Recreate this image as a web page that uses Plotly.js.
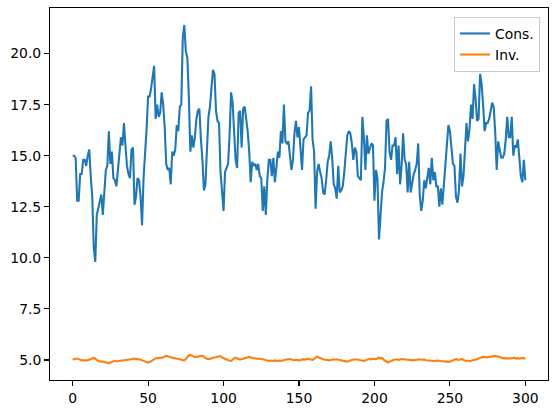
<!DOCTYPE html>
<html>
<head>
<meta charset="utf-8">
<script src="https://cdn.plot.ly/plotly-3.0.1.min.js"></script>
<style>html,body{margin:0;padding:0;background:#fff;}#chart{width:556px;height:413px;}</style>
</head>
<body>
<div id="chart"></div>
<script>
const seriesNames = ["Cons.", "Inv."];
const xTickVals = [0, 50, 100, 150, 200, 250, 300];
const yTickVals = [5.0, 7.5, 10.0, 12.5, 15.0, 17.5, 20.0];

const consValues = [
15.0,15.0,14.9,12.8,12.8,14.1,14.1,14.8,14.8,14.5,
15.0,15.3,14.0,13.0,10.5,9.8,12.1,12.4,12.7,13.1,
12.1,13.0,14.3,14.5,16.2,14.6,15.2,13.9,13.8,13.5,
14.2,15.0,15.9,15.5,16.6,15.5,14.5,14.1,13.9,15.3,
15.4,12.6,13.0,13.9,13.8,13.0,11.6,13.9,15.0,16.3,
17.9,17.9,18.3,18.9,19.4,16.8,17.5,16.9,17.1,18.1,
17.5,16.4,14.6,14.3,14.4,13.6,15.2,15.0,15.3,16.5,
16.2,17.4,17.5,20.8,21.4,20.1,19.8,17.9,15.2,16.0,
15.4,15.9,16.8,17.2,17.3,15.8,14.8,13.3,13.6,15.3,
16.9,17.4,18.2,19.2,19.0,17.2,16.7,16.6,14.2,13.2,
12.3,14.2,14.4,14.6,16.0,18.1,17.6,16.3,14.8,14.4,
17.1,17.2,15.4,17.3,17.4,16.8,16.2,15.2,13.7,14.7,
14.5,14.6,14.3,14.6,14.0,13.9,12.3,13.5,12.1,13.8,
14.8,14.8,14.0,14.9,13.7,14.4,15.2,14.9,16.2,15.6,
17.5,15.7,15.6,15.7,15.0,14.3,14.8,16.1,16.7,15.9,
16.4,15.3,14.3,15.8,15.9,16.0,17.1,17.2,18.4,15.8,
15.2,12.4,14.2,14.6,14.2,13.9,13.2,13.1,13.8,14.7,
15.0,15.7,14.9,13.6,13.4,12.9,14.5,13.2,13.3,13.5,
14.2,15.2,16.0,16.2,16.1,15.6,14.8,15.4,15.2,14.0,
13.9,13.8,16.9,15.9,14.3,16.0,15.1,15.4,15.6,15.5,
12.8,14.3,13.9,10.9,12.0,13.2,13.7,14.4,16.7,16.8,
15.2,14.8,15.5,15.5,15.9,14.1,15.5,13.6,14.5,16.1,
14.8,14.6,13.2,14.7,13.2,13.7,14.1,14.3,14.6,15.6,
13.1,12.3,12.8,13.8,13.4,13.9,14.4,13.6,14.9,13.8,
14.2,13.5,13.5,12.5,13.4,12.6,13.5,14.8,15.6,16.5,
16.2,15.5,14.6,14.5,13.0,12.7,13.3,15.1,13.5,14.0,
15.4,16.6,15.7,16.3,17.5,16.8,18.5,17.8,16.7,16.8,
19.0,18.5,17.5,16.2,16.6,16.6,16.8,17.2,17.6,17.4,
16.2,14.3,15.7,15.3,14.9,14.9,15.1,15.8,16.9,15.9,
15.9,16.9,15.0,15.5,15.4,15.8,14.7,14.0,13.7,14.8,
13.8
];

const invValues = [
5.02,5.03,5.05,5.07,5.04,5.01,4.98,4.99,4.97,4.98,
4.99,5.02,5.05,5.08,5.10,5.06,5.00,4.95,4.93,4.94,
4.92,4.90,4.89,4.86,4.85,4.88,4.92,4.95,4.96,4.94,
4.95,4.96,4.95,4.97,4.99,5.00,5.01,5.02,5.00,5.04,
5.06,5.07,5.03,5.05,5.02,5.02,4.98,4.95,4.92,4.89,
4.87,4.90,4.95,4.98,5.04,5.08,5.10,5.09,5.12,5.10,
5.14,5.17,5.20,5.18,5.15,5.12,5.10,5.09,5.08,5.06,
5.05,5.03,5.01,4.99,4.98,5.05,5.15,5.22,5.25,5.20,
5.16,5.14,5.17,5.15,5.18,5.20,5.21,5.15,5.08,5.05,
5.06,5.04,5.08,5.10,5.12,5.14,5.18,5.20,5.19,5.12,
5.08,5.04,5.00,4.97,4.96,4.95,5.02,5.08,5.10,5.06,
5.04,5.02,5.06,5.05,5.09,5.11,5.13,5.15,5.12,5.10,
5.09,5.08,5.06,5.07,5.07,5.05,5.03,5.01,4.98,4.96,
4.95,4.97,4.96,4.95,4.98,4.96,4.95,4.97,4.95,4.96,
5.00,5.02,5.04,5.05,5.05,5.02,5.00,4.99,5.01,4.99,
4.98,5.00,5.03,5.04,5.02,5.04,5.06,5.04,5.01,5.00,
5.05,5.12,5.17,5.12,5.08,5.06,5.04,5.02,5.00,4.99,
4.98,5.00,5.02,5.03,5.01,5.03,5.01,4.99,4.97,4.95,
4.94,4.93,4.92,4.95,4.98,5.00,5.02,5.02,5.03,5.02,
5.00,4.98,4.97,4.95,4.98,5.02,5.04,5.05,5.03,5.06,
5.05,5.04,5.08,5.12,5.08,5.10,5.02,4.96,4.92,4.88,
4.92,4.96,4.99,5.01,5.02,5.03,5.00,5.03,5.05,5.04,
5.03,5.05,5.03,5.02,5.00,4.99,4.98,5.00,5.02,5.04,
5.03,5.01,5.03,5.02,4.99,4.98,4.97,4.98,4.96,4.95,
4.95,4.97,4.98,4.96,4.95,4.94,4.93,4.92,4.90,4.91,
4.93,4.96,5.00,5.03,5.04,5.02,5.00,5.03,5.05,5.00,
4.96,4.95,4.97,4.94,4.96,4.98,4.98,5.00,5.04,5.08,
5.11,5.13,5.15,5.14,5.12,5.14,5.16,5.18,5.17,5.19,
5.20,5.19,5.16,5.14,5.12,5.08,5.10,5.07,5.09,5.06,
5.08,5.10,5.09,5.11,5.07,5.09,5.06,5.08,5.10,5.07,
5.08
];

const xIndex = consValues.map((_, i) => i);

const traces = [
  {x: xIndex, y: consValues, name: seriesNames[0], type: "scatter", mode: "lines",
   line: {color: "#1f77b4", width: 2.08}},
  {x: xIndex, y: invValues, name: seriesNames[1], type: "scatter", mode: "lines",
   line: {color: "#ff7f0e", width: 2.08}}
];

const axisCommon = {
  showgrid: false, zeroline: false, showline: true, mirror: true,
  linecolor: "#000", linewidth: 1.1, ticks: "outside", ticklen: 4.9,
  tickwidth: 1.1, tickcolor: "#000",
  tickfont: {family: "DejaVu Sans", size: 13.9, color: "#000"}
};

const layout = {
  width: 556, height: 413,
  margin: {l: 50, r: 8, t: 8, b: 33},
  paper_bgcolor: "#fff", plot_bgcolor: "#fff",
  showlegend: true,
  xaxis: Object.assign({}, axisCommon, {range: [-15, 315], tickvals: xTickVals, ticktext: xTickVals.map(String)}),
  yaxis: Object.assign({}, axisCommon, {range: [4.02, 22.23], tickvals: yTickVals, ticktext: yTickVals.map(v => v.toFixed(1))}),
  legend: {
    x: 0.984, y: 0.976, xanchor: "right", yanchor: "top",
    bgcolor: "rgba(255,255,255,0.8)", bordercolor: "#cccccc", borderwidth: 1,
    font: {family: "DejaVu Sans", size: 13.9, color: "#000"},
    itemwidth: 30, tracegroupgap: 0
  }
};

Plotly.newPlot("chart", traces, layout, {staticPlot: true, displayModeBar: false});
</script>
</body>
</html>
